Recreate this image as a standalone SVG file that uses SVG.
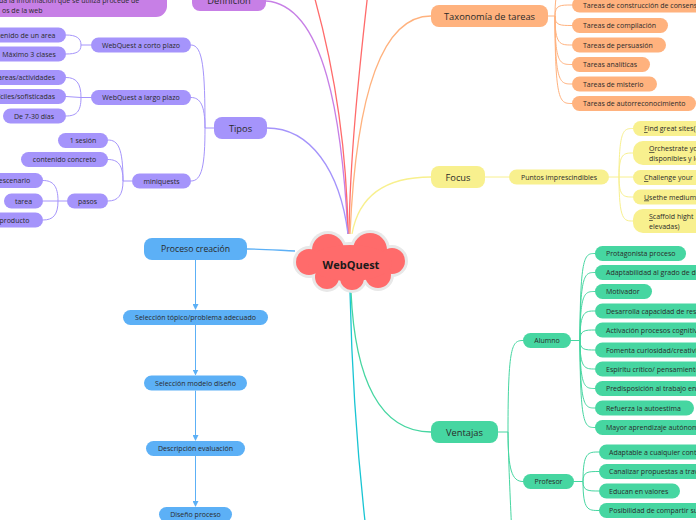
<svg xmlns="http://www.w3.org/2000/svg" width="696" height="520" viewBox="0 0 696 520">
<defs>
<marker id="arr" markerWidth="6" markerHeight="6" refX="5" refY="3" orient="auto" markerUnits="userSpaceOnUse">
<path d="M0,0 L6,3 L0,6 Z" fill="#5cb0f6"/>
</marker>
<style>
text{font-family:"Open Sans","Noto Sans","Liberation Sans",sans-serif;fill:#2a2a2a}
.s{font-size:7px}
.m{font-size:9.3px;text-anchor:middle}
.c{text-anchor:middle}
.e{text-anchor:end}
.u{text-decoration:underline}
.ln{fill:none;stroke-width:1}
.main{fill:none;stroke-width:1.3}
.pu{fill:#c77fe6}.la{fill:#a594fb}.or{fill:#ffb27e}.ye{fill:#f8f08e}.gr{fill:#46d6a1}.bl{fill:#5cb0f6}
</style>
</defs>
<rect width="696" height="520" fill="#ffffff"/>

<g id="connectors">
<path class="main" stroke="#c77fe6" d="M266,1 C325,5 342,120 348,234"/>
<path class="main" stroke="#ff6b6b" d="M348,234 C347,160 338,80 313,-8"/>
<path class="main" stroke="#ff6b6b" d="M349,234 C350,160 358,80 368,-8"/>
<path class="main" stroke="#ffb27e" d="M431,16 C380,16 356,100 350,234"/>
<path class="main" stroke="#a594fb" d="M267,128 C310,128 340,170 348,234"/>
<path class="main" stroke="#f8f08e" d="M431,177 C380,177 358,200 352,234"/>
<path class="main" stroke="#46d6a1" d="M351,292 C355,380 380,432 431,432"/>
<path class="main" stroke="#19c5d3" d="M350,292 C352,380 358,460 366,530"/>
<path class="main" stroke="#5cb0f6" d="M295,251 C275,250 262,249 247,249"/>

<!-- Tipos -->
<g stroke="#a594fb" class="ln">
<path class="ln" d="M214,128 L205,128"/>
<path class="ln" d="M205,128 C205,70 203,45 191,45"/>
<path class="ln" d="M205,128 C205,105 200,97.5 191,97.5"/>
<path class="ln" d="M205,128 C205,165 202,181 191,181"/>
<path class="ln" d="M91,45 L81,45 C81,38 76,35 66,35"/>
<path class="ln" d="M81,45 C81,52 76,54 66,54"/>
<path class="ln" d="M91,97.5 L81,97.5 C81,83 76,77.5 66,77.5"/>
<path class="ln" d="M81,97.5 L66,96.5"/>
<path class="ln" d="M81,97.5 C81,112 76,116 66,116"/>
<path class="ln" d="M132,181 L123,181 C123,148 118,140 108,140"/>
<path class="ln" d="M123,181 C123,165 118,159.5 108,159.5"/>
<path class="ln" d="M123,181 C123,195 118,201 108,201"/>
<path class="ln" d="M67,201 L58,201 C58,186 53,180.5 43,180.5"/>
<path class="ln" d="M58,201 L43,201"/>
<path class="ln" d="M58,201 C58,215 53,220 43,220"/>
</g>

<!-- Taxonomia -->
<g stroke="#ffb27e" class="ln">
<path class="ln" d="M548,16 L555,16"/>
<path class="ln" d="M555,16 C555,-14 560,-14 572,-14"/>
<path class="ln" d="M555,16 C555,5 560,5 572,5"/>
<path class="ln" d="M555,16 C555,25.5 560,25.5 572,25.5"/>
<path class="ln" d="M555,16 C555,45 560,45 572,45"/>
<path class="ln" d="M555,16 C555,64.5 560,64.5 572,64.5"/>
<path class="ln" d="M555,16 C555,84 560,84 572,84"/>
<path class="ln" d="M555,16 C555,103.5 560,103.5 572,103.5"/>
</g>

<!-- Focus -->
<g stroke="#f8f08e" class="ln">
<path class="ln" d="M485,177 L509,177"/>
<path class="ln" d="M609,177 L619,177"/>
<path class="ln" d="M619,177 C619,128.5 624,128.5 633,128.5"/>
<path class="ln" d="M619,177 C619,153 624,153 633,153"/>
<path class="ln" d="M619,177 L633,177"/>
<path class="ln" d="M619,177 C619,197 624,197 633,197"/>
<path class="ln" d="M619,177 C619,221 624,221 633,221"/>
</g>

<!-- Ventajas -->
<g stroke="#46d6a1" class="ln">
<path class="ln" d="M498,432 L508,432"/>
<path class="ln" d="M508,432 C508,345 512,340.5 523,340.5"/>
<path class="ln" d="M508,432 C508,470 512,481.5 523,481.5"/>
<path class="ln" d="M508,432 C509,480 511,510 512,540"/>
<path class="ln" d="M571,340.5 L580,340.5"/>
<path class="ln" d="M580,340.5 C580,253.5 585,253.5 595,253.5"/>
<path class="ln" d="M580,340.5 C580,272.5 585,272.5 595,272.5"/>
<path class="ln" d="M580,340.5 C580,291.5 585,291.5 595,291.5"/>
<path class="ln" d="M580,340.5 C580,311 585,311 595,311"/>
<path class="ln" d="M580,340.5 C580,330 585,330 595,330"/>
<path class="ln" d="M580,340.5 C580,350 585,350 595,350"/>
<path class="ln" d="M580,340.5 C580,369 585,369 595,369"/>
<path class="ln" d="M580,340.5 C580,388.5 585,388.5 595,388.5"/>
<path class="ln" d="M580,340.5 C580,408 585,408 595,408"/>
<path class="ln" d="M580,340.5 C580,427.5 585,427.5 595,427.5"/>
<path class="ln" d="M574,481.5 L583,481.5"/>
<path class="ln" d="M583,481.5 C583,452 588,452 599,452"/>
<path class="ln" d="M583,481.5 C583,471.5 588,471.5 599,471.5"/>
<path class="ln" d="M583,481.5 C583,491 588,491 599,491"/>
<path class="ln" d="M583,481.5 C583,510.5 588,510.5 599,510.5"/>
</g>

<!-- Proceso -->
<g stroke="#5cb0f6" class="ln">
<path class="ln" d="M195.5,260 L195.5,309" marker-end="url(#arr)"/>
<path class="ln" d="M195.5,325 L195.5,374.5" marker-end="url(#arr)"/>
<path class="ln" d="M195.5,390.5 L195.5,440" marker-end="url(#arr)"/>
<path class="ln" d="M195.5,456 L195.5,506" marker-end="url(#arr)"/>
</g>
</g>

<g id="center">
<g fill="#e8e8e8">
<circle cx="328" cy="250" r="19"/><circle cx="370" cy="250" r="20"/>
<circle cx="309" cy="262" r="16"/><circle cx="392" cy="261" r="16"/>
<circle cx="327" cy="277" r="15"/><circle cx="352" cy="278" r="15"/><circle cx="378" cy="275" r="16"/>
<ellipse cx="350" cy="263" rx="45" ry="21"/>
</g>
<g fill="#ff6b6b">
<circle cx="328" cy="250" r="16"/><circle cx="370" cy="250" r="17"/>
<circle cx="309" cy="262" r="13"/><circle cx="392" cy="261" r="13"/>
<circle cx="327" cy="277" r="12"/><circle cx="352" cy="278" r="12"/><circle cx="378" cy="275" r="13"/>
<ellipse cx="350" cy="263" rx="42" ry="18"/>
</g>
<text x="351" y="268.5" class="c" style="font-size:11px;font-weight:bold;fill:#1a1a1a">WebQuest</text>
</g>

<g id="definicion">
<rect x="-100" y="-30" width="267" height="47" rx="11" class="pu"/>
<text class="s" x="-1" y="3">da la información que se utiliza procede de</text>
<text class="s" x="2" y="12.7">os de la web</text>
<rect x="192" y="-11" width="74" height="22" rx="8" class="pu"/>
<text class="m" x="229" y="3.5">Definición</text>
</g>

<g id="tipos">
<rect x="214" y="117" width="53" height="22" rx="8" class="la"/>
<text class="m" x="240.5" y="131.5">Tipos</text>
</g>
<g id="corto">
<rect x="91" y="37.5" width="100" height="15" rx="7.5" class="la"/>
<text class="s c" x="141" y="48">WebQuest a corto plazo</text>
</g>
<g id="largo">
<rect x="91" y="90" width="100" height="15" rx="7.5" class="la"/>
<text class="s c" x="141" y="100">WebQuest a largo plazo</text>
</g>
<g id="miniquests">
<rect x="132" y="173.5" width="59" height="15" rx="7.5" class="la"/>
<text class="s c" x="161.5" y="183.5">miniquests</text>
</g>
<g id="contenido-area">
<rect x="-30" y="27.5" width="96" height="15" rx="7.5" class="la"/>
<text class="s e" x="55.5" y="37.5">Contenido de un area</text>
</g>
<g id="maximo">
<rect x="-8" y="46.5" width="74" height="15" rx="7.5" class="la"/>
<text class="s c" x="29" y="56.5">Máximo 3 clases</text>
</g>
<g id="tareas-act">
<rect x="-20" y="70" width="86" height="15" rx="7.5" class="la"/>
<text class="s e" x="55" y="80">Tareas/actividades</text>
</g>
<g id="dificiles">
<rect x="-30" y="89" width="96" height="15" rx="7.5" class="la"/>
<text class="s e" x="55" y="99">Difíciles/sofisticadas</text>
</g>
<g id="dias">
<rect x="3" y="108.5" width="63" height="15" rx="7.5" class="la"/>
<text class="s c" x="34" y="118.5">De 7-30 días</text>
</g>
<g id="sesion">
<rect x="58" y="133" width="50" height="15" rx="7.5" class="la"/>
<text class="s c" x="83" y="142.5">1 sesión</text>
</g>
<g id="concreto">
<rect x="21" y="152" width="87" height="15" rx="7.5" class="la"/>
<text class="s c" x="64.5" y="162">contenido concreto</text>
</g>
<g id="pasos">
<rect x="67" y="193.5" width="41" height="15" rx="7.5" class="la"/>
<text class="s c" x="87.5" y="203.5">pasos</text>
</g>
<g id="escenario">
<rect x="-15" y="173" width="58" height="15" rx="7.5" class="la"/>
<text class="s c" x="14.5" y="183">escenario</text>
</g>
<g id="tarea">
<rect x="4" y="193.5" width="39" height="15" rx="7.5" class="la"/>
<text class="s c" x="23.5" y="203.5">tarea</text>
</g>
<g id="producto">
<rect x="-15" y="212.5" width="58" height="15" rx="7.5" class="la"/>
<text class="s c" x="14.5" y="222.5">producto</text>
</g>

<g id="taxonomia">
<rect x="431" y="5" width="117" height="22" rx="8" class="or"/>
<text class="m" x="489.5" y="19.5">Taxonomía de tareas</text>
</g>
<g id="t-consenso"><rect x="572" y="-2.5" width="200" height="15" rx="7.5" class="or"/><text class="s" x="583" y="7.5">Tareas de construcción de consenso</text></g>
<g id="t-compilacion"><rect x="572" y="18" width="96" height="15" rx="7.5" class="or"/><text class="s" x="583" y="28">Tareas de compilación</text></g>
<g id="t-persuasion"><rect x="572" y="37.5" width="94" height="15" rx="7.5" class="or"/><text class="s" x="583" y="47.5">Tareas de persuasión</text></g>
<g id="t-analiticas"><rect x="572" y="57" width="78" height="15" rx="7.5" class="or"/><text class="s" x="583" y="67">Tareas analíticas</text></g>
<g id="t-misterio"><rect x="572" y="76.5" width="85" height="15" rx="7.5" class="or"/><text class="s" x="583" y="86.5">Tareas de misterio</text></g>
<g id="t-autorreconocimiento"><rect x="572" y="96" width="124" height="15" rx="7.5" class="or"/><text class="s" x="583" y="106">Tareas de autorreconocimiento</text></g>

<g id="focus">
<rect x="431" y="166" width="54" height="22" rx="8" class="ye"/>
<text class="m" x="458" y="180.5">Focus</text>
</g>
<g id="puntos">
<rect x="509" y="169.5" width="100" height="15" rx="7.5" class="ye"/>
<text class="s c" x="559" y="179.5">Puntos imprescindibles</text>
</g>
<g id="f-find"><rect x="633" y="121" width="100" height="15" rx="7.5" class="ye"/><text class="s" x="644" y="131"><tspan class="u">F</tspan>ind great sites(</text></g>
<g id="f-orchestrate"><rect x="633" y="141" width="100" height="24" rx="10" class="ye"/><text class="s" x="649" y="151"><tspan class="u">O</tspan>rchestrate your</text><text class="s" x="649" y="160.7">disponibles y los</text></g>
<g id="f-challenge"><rect x="633" y="170" width="100" height="15" rx="7.5" class="ye"/><text class="s" x="644" y="180"><tspan class="u">C</tspan>hallenge  your</text></g>
<g id="f-use"><rect x="633" y="189.5" width="100" height="15" rx="7.5" class="ye"/><text class="s" x="644" y="199.5"><tspan class="u">U</tspan>sethe medium</text></g>
<g id="f-scaffold"><rect x="633" y="209" width="100" height="24" rx="10" class="ye"/><text class="s" x="649" y="219"><tspan class="u">S</tspan>caffold hight</text><text class="s" x="649" y="229">elevadas)</text></g>

<g id="ventajas">
<rect x="431" y="421" width="67" height="22" rx="8" class="gr"/>
<text class="m" x="464.5" y="435.5">Ventajas</text>
</g>
<g id="alumno"><rect x="523" y="333" width="48" height="15" rx="7.5" class="gr"/><text class="s c" x="547" y="343">Alumno</text></g>
<g id="profesor"><rect x="523" y="474" width="51" height="15" rx="7.5" class="gr"/><text class="s c" x="548.5" y="484">Profesor</text></g>
<g id="a1"><rect x="595" y="246" width="91" height="15" rx="7.5" class="gr"/><text class="s" x="606" y="256">Protagonista proceso</text></g>
<g id="a2"><rect x="595" y="265" width="150" height="15" rx="7.5" class="gr"/><text class="s" x="606" y="275">Adaptabilidad al grado de desarrollo</text></g>
<g id="a3"><rect x="595" y="284" width="57" height="15" rx="7.5" class="gr"/><text class="s" x="606" y="294">Motivador</text></g>
<g id="a4"><rect x="595" y="303.5" width="150" height="15" rx="7.5" class="gr"/><text class="s" x="606" y="313.5">Desarrolla capacidad de resolución</text></g>
<g id="a5"><rect x="595" y="322.5" width="150" height="15" rx="7.5" class="gr"/><text class="s" x="606" y="332.5">Activación procesos cognitivos</text></g>
<g id="a6"><rect x="595" y="342.5" width="150" height="15" rx="7.5" class="gr"/><text class="s" x="606" y="352.5">Fomenta curiosidad/creatividad</text></g>
<g id="a7"><rect x="595" y="361.5" width="150" height="15" rx="7.5" class="gr"/><text class="s" x="606" y="371.5">Espíritu crítico/ pensamiento</text></g>
<g id="a8"><rect x="595" y="381" width="150" height="15" rx="7.5" class="gr"/><text class="s" x="606" y="391">Predisposición al trabajo en equipo</text></g>
<g id="a9"><rect x="595" y="400.5" width="99" height="15" rx="7.5" class="gr"/><text class="s" x="606" y="410.5">Refuerza la autoestima</text></g>
<g id="a10"><rect x="595" y="420" width="150" height="15" rx="7.5" class="gr"/><text class="s" x="606" y="430">Mayor aprendizaje autónomo</text></g>
<g id="p1"><rect x="599" y="444.5" width="150" height="15" rx="7.5" class="gr"/><text class="s" x="609" y="454.5">Adaptable a cualquier contexto</text></g>
<g id="p2"><rect x="599" y="464" width="150" height="15" rx="7.5" class="gr"/><text class="s" x="609" y="474">Canalizar propuestas a través</text></g>
<g id="p3"><rect x="599" y="483.5" width="81" height="15" rx="7.5" class="gr"/><text class="s" x="609" y="493.5">Educan en valores</text></g>
<g id="p4"><rect x="599" y="503" width="150" height="15" rx="7.5" class="gr"/><text class="s" x="609" y="513">Posibilidad de compartir su</text></g>

<g id="proceso">
<rect x="144" y="238" width="103" height="22" rx="8" class="bl"/>
<text class="c" x="195.5" y="252.3" style="font-size:8.7px">Proceso creación</text>
</g>
<g id="pc1"><rect x="123" y="310" width="145" height="15" rx="7.5" class="bl"/><text class="s c" x="195.5" y="320">Selección tópico/problema adecuado</text></g>
<g id="pc2"><rect x="144" y="375.5" width="103" height="15" rx="7.5" class="bl"/><text class="s c" x="195.5" y="385.5">Selección modelo diseño</text></g>
<g id="pc3"><rect x="146" y="441" width="99" height="15" rx="7.5" class="bl"/><text class="s c" x="195.5" y="451">Descripción evaluación</text></g>
<g id="pc4"><rect x="159" y="507" width="73" height="15" rx="7.5" class="bl"/><text class="s c" x="195.5" y="517">Diseño proceso</text></g>
</svg>
